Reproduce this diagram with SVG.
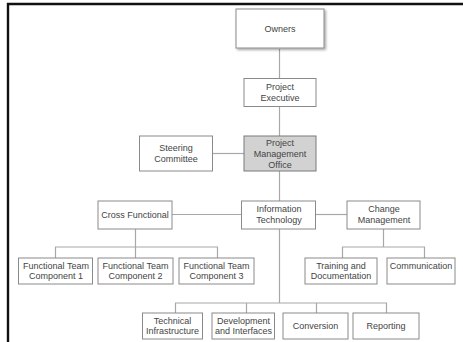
<svg xmlns="http://www.w3.org/2000/svg" width="463" height="342" viewBox="0 0 463 342">
<defs>
<style>
.b{fill:#fff;stroke:#8a8a8a;stroke-width:1}
.g{fill:#d2d2d2;stroke:#7a7a7a;stroke-width:1}
.l{fill:none;stroke:#a8a8a8;stroke-width:1.2}
text{font-family:"Liberation Sans",Arial,sans-serif;font-size:9px;fill:#444;text-anchor:middle}
</style>
<filter id="sh" x="-10%" y="-10%" width="130%" height="140%">
<feDropShadow dx="1.5" dy="1.5" stdDeviation="1" flood-color="#000" flood-opacity="0.35"/>
</filter>
</defs>
<rect width="463" height="342" fill="#fff"/>
<path d="M8 342 V4 H463" fill="none" stroke="#111" stroke-width="2.4"/>
<g id="connectors" class="l">
<line x1="279.5" y1="49" x2="279.5" y2="78" class="l"/>
<line x1="279.5" y1="107" x2="279.5" y2="136" class="l"/>
<line x1="212" y1="153.5" x2="244" y2="153.5" class="l"/>
<line x1="279.5" y1="171" x2="279.5" y2="201" class="l"/>
<line x1="172" y1="214.5" x2="241" y2="214.5" class="l"/>
<line x1="315" y1="214.5" x2="347" y2="214.5" class="l"/>
<path d="M135.5 229 V247 M55.5 258 V247 H217.5 V258 M135.5 247 V258" class="l"/>
<path d="M383.5 229 V247 M342.5 258 V247 H424.5 V258" class="l"/>
<path d="M279.5 229 V303 M175.5 313 V303 H386.5 V313 M246.5 303 V313 M316.5 303 V313" class="l"/>
</g>
<g id="owners"><rect class="b" x="236" y="9" width="88" height="39" filter="url(#sh)"/><text x="280" y="32">Owners</text></g>
<g id="exec"><rect class="b" x="244" y="78.5" width="72" height="28"/><text x="280" y="90">Project</text><text x="280" y="101">Executive</text></g>
<g id="steering"><rect class="b" x="139.5" y="136" width="73" height="35"/><text x="176" y="151">Steering</text><text x="176" y="162">Committee</text></g>
<g id="pmo"><rect class="g" x="244" y="136" width="72" height="35"/><text x="280" y="146">Project</text><text x="280" y="157">Management</text><text x="280" y="167.5">Office</text></g>
<g id="cross"><rect class="b" x="98" y="201" width="74" height="28"/><text x="135" y="218">Cross Functional</text></g>
<g id="it"><rect class="b" x="241.5" y="201" width="74" height="28"/><text x="279" y="212">Information</text><text x="279" y="223">Technology</text></g>
<g id="change"><rect class="b" x="347" y="201" width="73" height="28"/><text x="384" y="212">Change</text><text x="384" y="223">Management</text></g>
<g id="ft1"><rect class="b" x="18.5" y="258" width="74" height="26"/><text x="56" y="268.5">Functional Team</text><text x="56" y="279">Component 1</text></g>
<g id="ft2"><rect class="b" x="98" y="258" width="75" height="26"/><text x="135.5" y="268.5">Functional Team</text><text x="135.5" y="279">Component 2</text></g>
<g id="ft3"><rect class="b" x="179" y="258" width="75" height="26"/><text x="216.5" y="268.5">Functional Team</text><text x="216.5" y="279">Component 3</text></g>
<g id="training"><rect class="b" x="305" y="258" width="72" height="26"/><text x="341" y="268.5">Training and</text><text x="341" y="279">Documentation</text></g>
<g id="comm"><rect class="b" x="387" y="258" width="68" height="26"/><text x="421" y="268.5">Communication</text></g>
<g id="tech"><rect class="b" x="142.5" y="313" width="60" height="26"/><text x="172.5" y="323.5">Technical</text><text x="172.5" y="334">Infrastructure</text></g>
<g id="dev"><rect class="b" x="212" y="313" width="62.5" height="26"/><text x="243.5" y="323.5">Development</text><text x="243.5" y="334">and Interfaces</text></g>
<g id="conv"><rect class="b" x="283" y="313" width="65" height="26"/><text x="315.5" y="329">Conversion</text></g>
<g id="rep"><rect class="b" x="353" y="313" width="66" height="26"/><text x="386" y="329">Reporting</text></g>
</svg>
